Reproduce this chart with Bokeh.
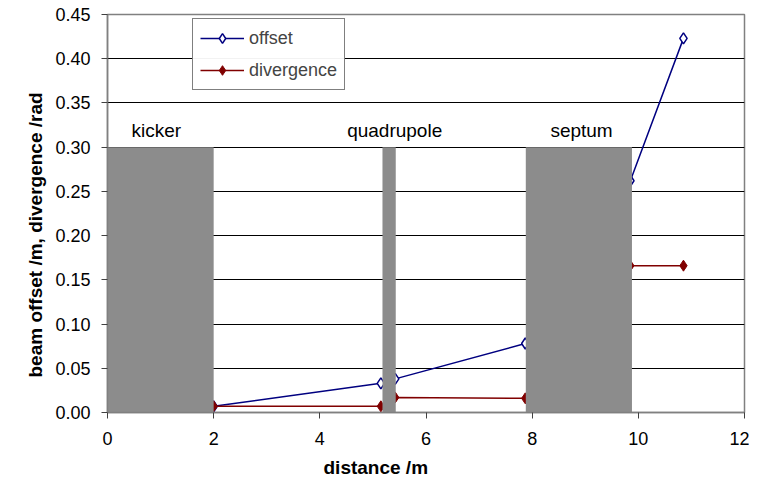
from bokeh.plotting import figure
from bokeh.models import ColumnDataSource, Legend, LegendItem, FixedTicker, Range1d, NumeralTickFormatter, Title
from bokeh.core.properties import value
from bokeh.embed import file_html
from bokeh.resources import INLINE

distance = [0, 2.0, 5.15, 5.42, 7.87, 9.85, 10.85]
offset = [0.0, 0.007, 0.033, 0.038, 0.078, 0.262, 0.423]
divergence = [0.0, 0.007, 0.007, 0.017, 0.016, 0.166, 0.166]

elements = ["kicker", "quadrupole", "septum"]
elem_start = [0.0, 5.18, 7.88]
elem_end = [2.0, 5.43, 9.88]
elem_height = [0.30, 0.30, 0.30]
label_x = [0.92, 5.41, 8.93]
label_y = [0.319, 0.319, 0.319]

x_ticks = [0, 2, 4, 6, 8, 10, 12]
y_ticks = [0.0, 0.05, 0.10, 0.15, 0.20, 0.25, 0.30, 0.35, 0.40, 0.45]
x_title = "distance /m"
y_title = "beam offset /m, divergence /rad"

FONT = "Liberation Sans"

p = figure(width=749, height=491, output_backend="svg", toolbar_location=None,
           x_range=Range1d(0, 12), y_range=Range1d(0, 0.45),
           min_border_left=107, min_border_right=5, min_border_top=14, min_border_bottom=79)
p.outline_line_color = "#808080"
p.outline_line_width = 1.5
p.background_fill_color = "white"

p.xgrid.grid_line_color = None
p.ygrid.grid_line_color = "black"
p.ygrid.grid_line_width = 1
p.ygrid.ticker = FixedTicker(ticks=y_ticks)

p.xaxis.ticker = FixedTicker(ticks=x_ticks)
p.yaxis.ticker = FixedTicker(ticks=y_ticks)
p.yaxis.formatter = NumeralTickFormatter(format="0.00")
for ax in (p.xaxis, p.yaxis):
    ax.axis_line_color = "#808080"
    ax.axis_line_width = 1.5
    ax.major_tick_line_color = "#404040"
    ax.major_tick_out = 6
    ax.major_tick_in = 0
    ax.minor_tick_line_color = None
    ax.major_label_text_font = FONT
    ax.major_label_text_font_size = "18px"
    ax.major_label_text_color = "black"
p.xaxis.major_label_standoff = 13
p.yaxis.major_label_standoff = 11

xt = Title(text=x_title, align="left", offset=216, standoff=14, text_line_height=0.6,
           text_font=FONT, text_font_size="19px", text_font_style="bold", text_color="black")
p.add_layout(xt, "below")
yt = Title(text=y_title, align="left", offset=35, standoff=14, text_line_height=0.6,
           text_font=FONT, text_font_size="19px", text_font_style="bold", text_color="black")
p.add_layout(yt, "left")

src = ColumnDataSource(dict(x=distance, off=offset, div=divergence))
l1 = p.line("x", "off", source=src, line_color="#000080", line_width=1.5)
m1 = p.scatter("x", "off", source=src, marker="diamond", size=11, line_color="#000080",
               fill_color="white", line_width=1.5)
l2 = p.line("x", "div", source=src, line_color="#800000", line_width=1.5)
m2 = p.scatter("x", "div", source=src, marker="diamond", size=11, line_color="#800000",
               fill_color="#800000")

esrc = ColumnDataSource(dict(left=elem_start, right=elem_end, top=elem_height,
                             bottom=[0] * len(elements)))
p.quad(left="left", right="right", top="top", bottom="bottom", source=esrc,
       fill_color="#8c8c8c", line_color=None)

lsrc = ColumnDataSource(dict(x=label_x, y=label_y, t=elements))
p.text("x", "y", text="t", source=lsrc, text_font=value(FONT), text_font_size="19px",
       text_align="center", text_baseline="middle", text_color="black")

legend = Legend(items=[LegendItem(label="offset", renderers=[l1, m1]),
                       LegendItem(label="divergence", renderers=[l2, m2])])
legend.margin = 0
legend.label_text_font = FONT
legend.label_text_font_size = "18px"
legend.border_line_color = "black"
legend.border_line_width = 1
legend.padding = 7
legend.spacing = 8
legend.glyph_width = 44
legend.glyph_height = 24
legend.label_height = 24
legend.label_standoff = 5
p.add_layout(legend)
legend.location = (85, 322)

open("out.html", "w").write(file_html(p, INLINE))
